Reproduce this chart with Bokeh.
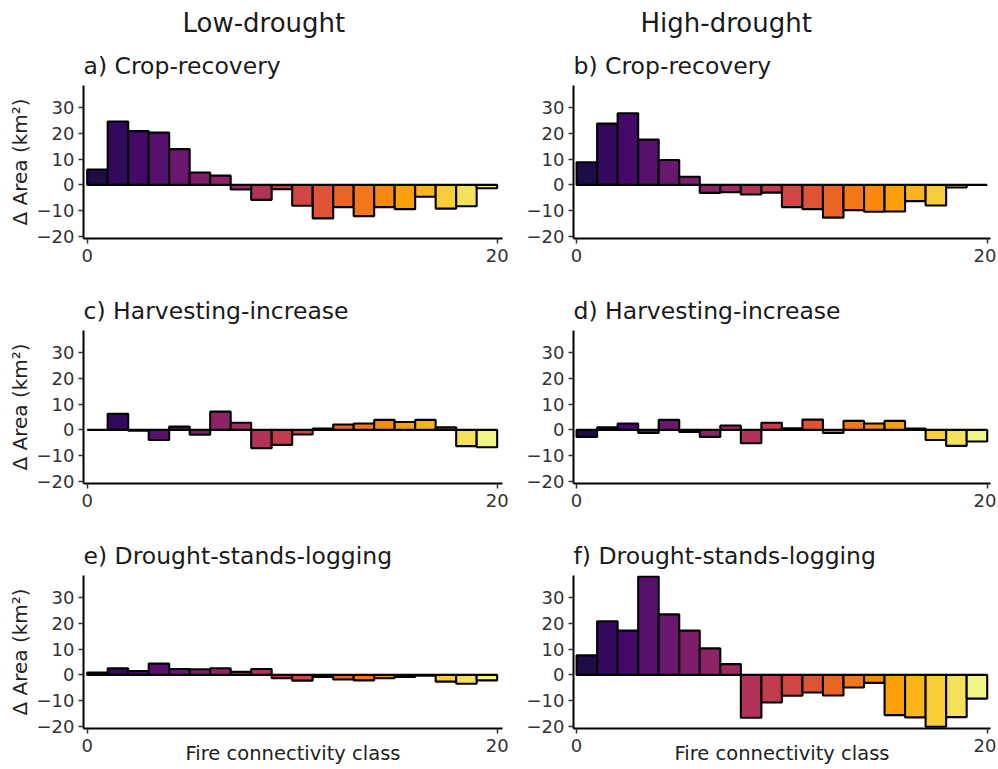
from bokeh.plotting import figure
from bokeh.models import ColumnDataSource, FixedTicker, Title, Range1d
from bokeh.layouts import column, row
from bokeh.embed import file_html
from bokeh.resources import INLINE
from bokeh.palettes import Inferno256

# Fire connectivity classes (bar centres)
classes = [i + 0.5 for i in range(20)]

# Delta area (km2) per class
a_crop_low = [6.0, 24.6, 20.9, 20.3, 13.9, 4.8, 3.6, -1.8, -5.8, -1.7,
              -8.1, -13.0, -8.6, -12.1, -8.6, -9.4, -4.6, -9.2, -8.3, -1.3]
b_crop_high = [8.8, 23.8, 27.8, 17.6, 9.7, 3.2, -3.1, -2.8, -3.7, -3.0,
               -8.6, -9.4, -12.7, -9.8, -10.4, -10.3, -6.3, -8.0, -1.0, 0.0]
c_harv_low = [0.0, 6.3, -0.3, -3.9, 1.3, -1.9, 7.1, 2.8, -7.1, -5.8,
              -1.8, 0.5, 2.1, 2.5, 3.9, 3.1, 3.9, 1.0, -6.3, -6.7]
d_harv_high = [-2.7, 1.0, 2.5, -1.2, 3.9, -0.8, -2.7, 1.7, -5.2, 2.8,
               0.6, 4.0, -1.2, 3.5, 2.5, 3.5, 0.5, -3.9, -6.2, -4.5]
e_dsl_low = [0.9, 2.6, 1.5, 4.4, 2.3, 2.2, 2.6, 1.2, 2.3, -1.3,
             -2.2, -0.8, -1.8, -2.1, -1.3, -0.8, -0.3, -2.6, -3.4, -2.1]
f_dsl_high = [7.6, 20.8, 17.2, 38.2, 23.5, 17.2, 10.3, 4.2, -16.6, -10.7,
              -8.1, -6.8, -8.0, -4.9, -3.1, -15.6, -16.5, -20.1, -16.4, -9.2]

panel_titles = ["a) Crop-recovery", "b) Crop-recovery",
                "c) Harvesting-increase", "d) Harvesting-increase",
                "e) Drought-stands-logging", "f) Drought-stands-logging"]
column_titles = ["Low-drought", "High-drought"]
y_ticks = [-20, -10, 0, 10, 20, 30]
x_ticks = [0, 20]
y_label = "\u0394 Area (km\u00b2)"
x_label = "Fire connectivity class"

colors = [Inferno256[int(round(255 * (0.12 + i / 19 * 0.85)))] for i in range(20)]

FONT = "DejaVu Sans"
FRAME_H = 153


def make_panel(values, title, col, rowi):
    left = col == 0
    if left:
        xr = Range1d(-0.18, 20.26)
        fw = 419
        bl, br = 83, 20
    else:
        xr = Range1d(-0.15, 20.16)
        fw = 417
        bl, br = 51, 6
    if rowi == 0:
        bt, bb = 83, 50
    elif rowi == 1:
        bt, bb = 42, 50
    else:
        bt, bb = 42, 42
    p = figure(frame_width=fw, frame_height=FRAME_H, x_range=xr,
               y_range=Range1d(-20.8, 38.6), output_backend="svg",
               toolbar_location=None, min_border_left=bl, min_border_right=br,
               min_border_top=bt, min_border_bottom=bb)
    p.outline_line_color = None
    p.xgrid.visible = False
    p.ygrid.visible = False
    p.background_fill_color = "white"
    src = ColumnDataSource(dict(x=classes, top=values, color=colors))
    p.vbar(x="x", top="top", bottom=0, width=1.0, fill_color="color",
           line_color="black", line_width=2.1, source=src)
    for ax in (p.xaxis[0], p.yaxis[0]):
        ax.axis_line_width = 2
        ax.axis_line_color = "black"
        ax.major_tick_line_width = 1.5
        ax.major_tick_line_color = "#333333"
        ax.major_tick_out = 5
        ax.major_tick_in = 0
        ax.minor_tick_line_color = None
        ax.major_label_text_font = FONT
        ax.major_label_text_font_size = "18px"
        ax.major_label_text_color = "#333333"
        ax.axis_label_text_font = FONT
        ax.axis_label_text_font_style = "normal"
        ax.axis_label_text_color = "#222222"
    p.xaxis.ticker = FixedTicker(ticks=x_ticks)
    p.yaxis.ticker = FixedTicker(ticks=y_ticks)
    p.yaxis.major_label_standoff = 4
    p.xaxis.major_label_standoff = 5
    if left:
        p.yaxis.axis_label = y_label
        p.yaxis.axis_label_text_font_size = "20px"
        p.yaxis.axis_label_standoff = 2
    if rowi == 2:
        p.xaxis.axis_label = x_label
        p.xaxis.axis_label_text_font_size = "19.5px"
        p.xaxis.axis_label_standoff = -13
    p.add_layout(Title(text=title, text_font=FONT, text_font_size="23.5px",
                       text_font_style="normal", text_color="#1a1a1a",
                       align="left", standoff=12), "above")
    if rowi == 0:
        p.add_layout(Title(text=column_titles[col], text_font=FONT,
                           text_font_size="26px", text_font_style="normal",
                           text_color="#1a1a1a", align="left",
                           offset=99 if left else 67, standoff=11), "above")
    return p


data = [a_crop_low, b_crop_high, c_harv_low, d_harv_high, e_dsl_low, f_dsl_high]
rows = []
for r in range(3):
    figs = [make_panel(data[2 * r + c], panel_titles[2 * r + c], c, r) for c in range(2)]
    rows.append(row(*figs, spacing=0))
layout = column(*rows, spacing=0)

with open("out.html", "w") as f:
    f.write(file_html(layout, INLINE))
